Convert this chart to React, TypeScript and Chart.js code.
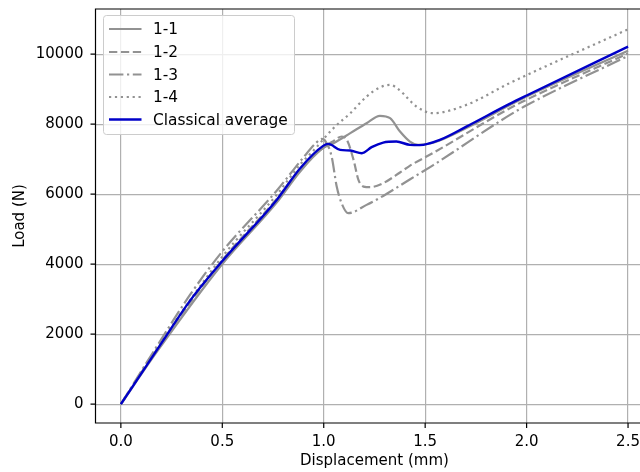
import React, { useEffect, useRef } from 'react';
import { Chart, registerables } from 'chart.js';

Chart.register(...registerables);

// ---- data ----
const xTicks = [0, 0.5, 1.0, 1.5, 2.0, 2.5];
const yTicks = [0, 2000, 4000, 6000, 8000, 10000];
const seriesNames = ['1-1', '1-2', '1-3', '1-4', 'Classical average'];

const s11X = [0, 0.178, 0.498, 0.768, 0.884, 0.997, 1.048, 1.131, 1.211, 1.277, 1.327, 1.376, 1.425, 1.465, 1.54, 1.703, 1.916, 2.0, 2.5];
const s11Y = [0, 1500, 3990, 5760, 6650, 7320, 7457, 7743, 8028, 8237, 8171, 7790, 7503, 7410, 7470, 7890, 8540, 8790, 10100];

const s12X = [0, 0.178, 0.498, 0.768, 0.89, 0.99, 1.04, 1.089, 1.114, 1.147, 1.171, 1.196, 1.229, 1.293, 1.376, 1.424, 1.54, 1.9, 2.0, 2.5];
const s12Y = [0, 1570, 4100, 5860, 6750, 7290, 7490, 7647, 7551, 6980, 6408, 6217, 6200, 6314, 6620, 6810, 7180, 8400, 8700, 10020];

const s13X = [0, 0.178, 0.344, 0.498, 0.768, 0.9, 0.96, 0.99, 1.005, 1.039, 1.064, 1.088, 1.121, 1.211, 1.293, 1.424, 1.54, 1.9, 2.0, 2.5];
const s13Y = [0, 1660, 3150, 4350, 6100, 7050, 7450, 7580, 7540, 7074, 6217, 5743, 5457, 5694, 5950, 6420, 6830, 8200, 8540, 9950];

const s14X = [0, 0.178, 0.498, 0.768, 0.884, 0.95, 1.048, 1.131, 1.211, 1.277, 1.327, 1.372, 1.457, 1.539, 1.703, 1.916, 2.5];
const s14Y = [0, 1600, 4200, 5980, 6850, 7250, 7886, 8314, 8788, 9050, 9123, 8980, 8503, 8314, 8551, 9171, 10710];

const avgX = [0, 0.178, 0.344, 0.498, 0.768, 0.884, 0.997, 1.022, 1.081, 1.131, 1.188, 1.236, 1.293, 1.358, 1.425, 1.474, 1.572, 1.703, 1.916, 2.0, 2.5];
const avgY = [0, 1551, 2980, 4074, 5837, 6743, 7380, 7437, 7266, 7246, 7171, 7343, 7474, 7503, 7408, 7400, 7551, 7931, 8580, 8820, 10217];

const FONT = "'DejaVu Sans', sans-serif";
const GRAY = '#929292';
const BLUE = '#0000c8';
const LW = 2.2;
const DASHES: number[][] = [[], [8.3, 3.6], [14.4, 3.6, 2.2, 3.6], [2.2, 3.7], []];
const COLORS = [GRAY, GRAY, GRAY, GRAY, BLUE];

export default function App() {
  const ref = useRef<HTMLCanvasElement>(null);

  useEffect(() => {
    if (!ref.current) return;
    const pts = (xs: number[], ys: number[]) => xs.map((x, i) => ({ x, y: ys[i] }));
    const series = [pts(s11X, s11Y), pts(s12X, s12Y), pts(s13X, s13Y), pts(s14X, s14Y), pts(avgX, avgY)];

    const datasets = series.map((d, i) => ({
      label: seriesNames[i],
      data: d,
      borderColor: COLORS[i],
      backgroundColor: COLORS[i],
      borderDash: DASHES[i],
      borderWidth: i === 4 ? 2.4 : LW,
      borderCapStyle: 'butt' as const,
      pointRadius: 0,
      fill: false,
      cubicInterpolationMode: 'monotone' as const,
      order: 4 - i,
    }));

    const deco = {
      id: 'deco',
      afterDraw(chart: any) {
        const { ctx, chartArea: a, scales } = chart;
        ctx.save();
        ctx.strokeStyle = '#000';
        ctx.lineWidth = 1.2;
        ctx.setLineDash([]);
        ctx.beginPath();
        ctx.moveTo(a.left, a.top);
        ctx.lineTo(a.right, a.top);
        ctx.lineTo(a.right, a.bottom);
        ctx.lineTo(a.left, a.bottom);
        ctx.closePath();
        ctx.stroke();
        // tick marks
        ctx.beginPath();
        xTicks.forEach((v) => {
          const px = scales.x.getPixelForValue(v);
          ctx.moveTo(px, a.bottom);
          ctx.lineTo(px, a.bottom + 5);
        });
        yTicks.forEach((v) => {
          const py = scales.y.getPixelForValue(v);
          ctx.moveTo(a.left, py);
          ctx.lineTo(a.left - 5, py);
        });
        ctx.stroke();

        // legend
        const bx = 103.5, by = 15.5, bw = 191, bh = 119;
        ctx.beginPath();
        ctx.roundRect(bx, by, bw, bh, 3);
        ctx.fillStyle = 'rgba(255,255,255,0.8)';
        ctx.fill();
        ctx.strokeStyle = '#cccccc';
        ctx.lineWidth = 1;
        ctx.stroke();
        const rowY = [29, 52, 74.5, 97, 119.5];
        ctx.font = `15.4px ${FONT}`;
        ctx.textBaseline = 'middle';
        ctx.textAlign = 'left';
        seriesNames.forEach((name, i) => {
          ctx.beginPath();
          ctx.strokeStyle = COLORS[i];
          ctx.lineWidth = i === 4 ? 2.4 : LW;
          ctx.lineCap = 'butt';
          ctx.setLineDash(DASHES[i]);
          ctx.moveTo(109, rowY[i]);
          ctx.lineTo(141.5, rowY[i]);
          ctx.stroke();
          ctx.setLineDash([]);
          ctx.fillStyle = '#000';
          ctx.fillText(name, 153, rowY[i] + 1);
        });
        ctx.restore();
      },
    };

    const chart = new Chart(ref.current, {
      type: 'line',
      data: { datasets },
      options: {
        animation: false,
        responsive: false,
        maintainAspectRatio: false,
        layout: { padding: { top: 9, right: 6.6, left: 0, bottom: 0 } },
        plugins: { legend: { display: false }, tooltip: { enabled: false } },
        scales: {
          x: {
            type: 'linear',
            min: -0.125,
            max: 2.625,
            afterBuildTicks: (s: any) => {
              s.ticks = xTicks.map((v) => ({ value: v }));
            },
            afterFit: (s: any) => {
              s.height = 49;
              s.paddingLeft = 0;
              s.paddingRight = 0;
            },
            grid: { color: '#b0b0b0', lineWidth: 1.2, drawTicks: false },
            border: { display: false },
            ticks: {
              padding: 10,
              color: '#000',
              font: { family: FONT, size: 15 },
              maxRotation: 0,
              autoSkip: false,
              callback: (v: any) => Number(v).toFixed(1),
            },
            title: {
              display: true,
              text: 'Displacement (mm)',
              color: '#000',
              font: { family: FONT, size: 15 },
              padding: { top: 0, bottom: 2 },
            },
          },
          y: {
            type: 'linear',
            min: -537,
            max: 11290,
            afterBuildTicks: (s: any) => {
              s.ticks = yTicks.map((v) => ({ value: v }));
            },
            afterFit: (s: any) => {
              s.width = 95.5;
              s.paddingTop = 0;
              s.paddingBottom = 0;
            },
            grid: { color: '#b0b0b0', lineWidth: 1.2, drawTicks: false },
            border: { display: false },
            ticks: {
              padding: 12,
              color: '#000',
              font: { family: FONT, size: 15 },
              autoSkip: false,
              callback: (v: any) => String(v),
            },
            title: {
              display: true,
              text: 'Load (N)',
              color: '#000',
              font: { family: FONT, size: 15 },
              padding: { top: 11, bottom: 0 },
            },
          },
        },
      },
      plugins: [deco],
    });
    return () => chart.destroy();
  }, []);

  return (
    <div
      style={{
        position: 'fixed',
        left: 0,
        top: 0,
        width: 640,
        height: 472,
        overflow: 'hidden',
        background: '#fff',
      }}
    >
      <canvas ref={ref} width={660} height={472} style={{ display: 'block', width: 660, height: 472 }} />
    </div>
  );
}
